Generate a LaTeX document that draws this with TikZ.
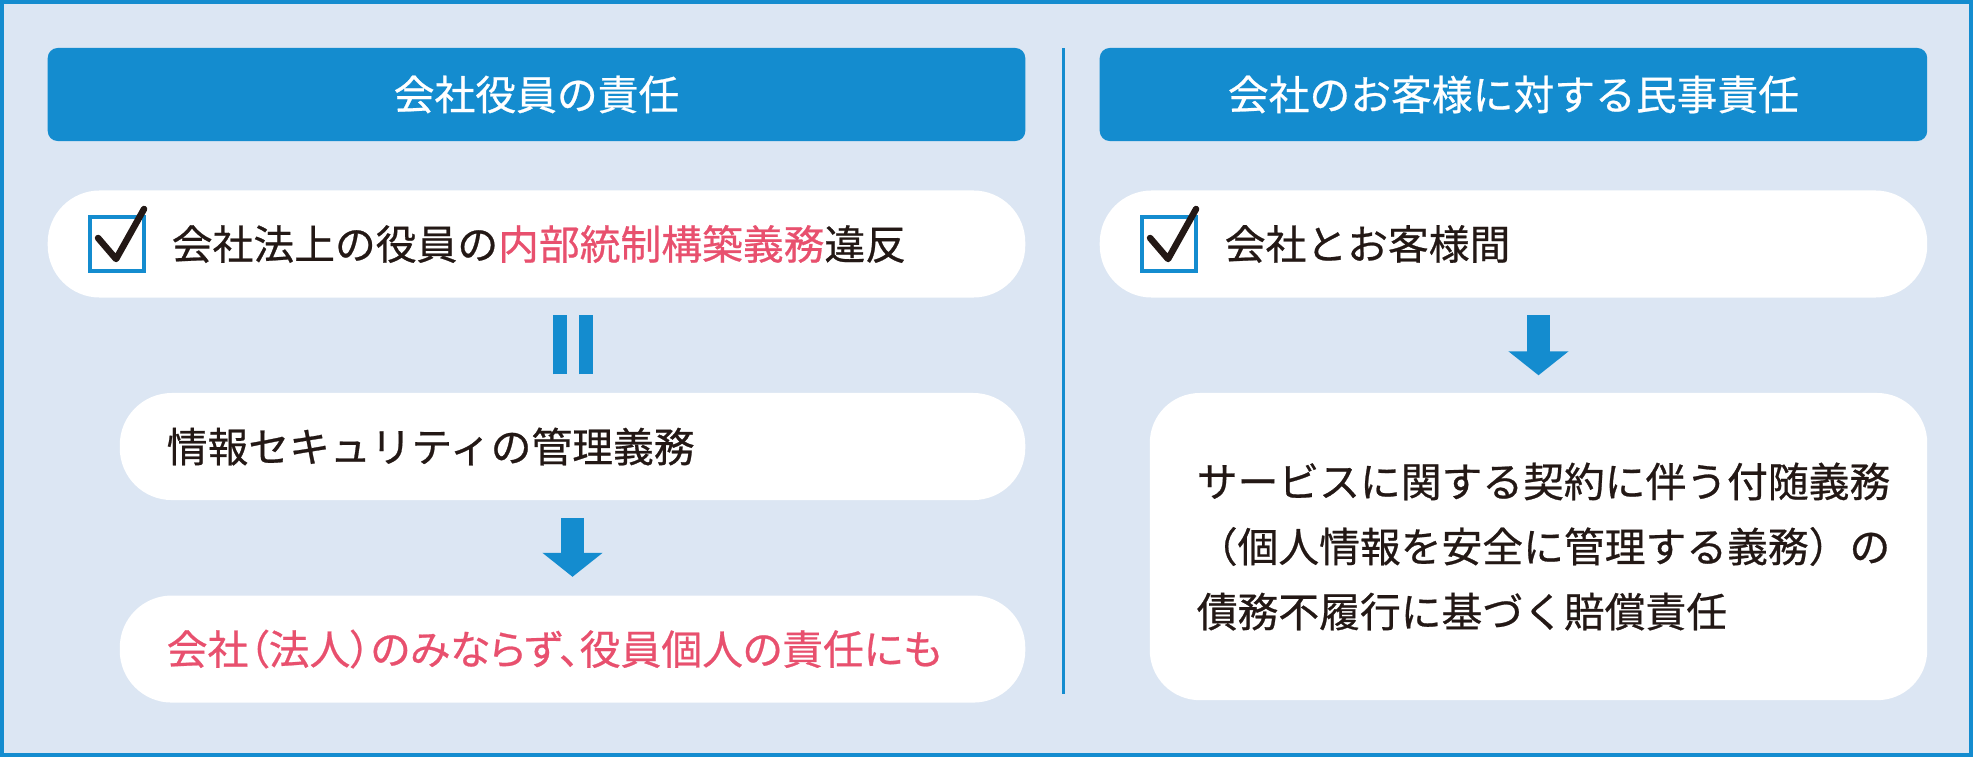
\documentclass[tikz,border=0pt]{standalone}
\usepackage{fontspec}
\newfontfamily\cjk[FakeBold=0.6]{Noto Sans CJK JP}
\newfontfamily\cjkp[FakeBold=0.6,RawFeature=+palt]{Noto Sans CJK JP}
\usetikzlibrary{positioning,arrows.meta,calc}
\definecolor{frameblue}{RGB}{20,140,207}
\definecolor{paleblue}{RGB}{220,230,243}
\definecolor{ink}{RGB}{35,24,21}
\definecolor{hot}{RGB}{232,80,110}

\begin{document}
\begin{tikzpicture}[
	x=0.01cm, y=-0.01cm
	,font=\cjk\fontsize{11.6pt}{18.5pt}\selectfont
	,head/.style={fill=frameblue, text=white, rounded corners=0.1cm, minimum height=0.93cm, inner sep=0}
	,pill/.style={fill=white, rounded corners=0.52cm, minimum height=1.07cm, inner sep=0}
	,txt/.style={text=ink, inner sep=0, anchor=west}
	,hotline/.style={text=hot, font=\cjkp\fontsize{11.6pt}{18.5pt}\selectfont}
	,chk/.style={draw=frameblue, line width=0.04cm, fill=white, minimum size=0.54cm, inner sep=0}
	,tick/.style={ink, line width=0.065cm, line cap=round, line join=round}
	,down/.style={frameblue, line width=0.23cm, -{Triangle[width=0.59cm, length=0.24cm]}}
	,eqbar/.style={frameblue, line width=0.14cm}
]
	\useasboundingbox (0,0) rectangle (1973,757);
	\draw[frameblue, fill=paleblue, line width=0.04cm] (2,2) rectangle (1971,755);
	\draw[frameblue, line width=0.03cm] (1063,48) -- (1063,694);

	\node[head, minimum width=9.77cm] (hdrL) at (536.5,94.5) {会社役員の責任};
	\node[head, minimum width=8.27cm, right=0.73cm of hdrL] (hdrR) {会社のお客様に対する民事責任};

	\node[pill, minimum width=9.77cm, below=0.48cm of hdrL] (pillA) {};
	\node[pill, minimum width=9.05cm, below left=0.94cm and 0cm of pillA.south east] (pillB) {};
	\node[pill, minimum width=9.05cm, below=0.94cm of pillB] (pillC) {};
	\node[pill, minimum width=8.27cm, below=0.48cm of hdrR] (pillR) {};
	\node[pill, minimum width=7.77cm, minimum height=3.07cm, rounded corners=0.5cm, below left=0.94cm and 0cm of pillR.south east] (boxR) {};

	\node[chk, right=0.41cm of pillA.west] (chkA) {};
	\node[chk, right=0.41cm of pillR.west] (chkR) {};
	\foreach \c in {chkA,chkR}
		\draw[tick] ([shift={(-19,-6)}]\c.center) -- ([shift={(-1,15)}]\c.center) -- ([shift={(27,-35)}]\c.center);

	\node[txt, right=0.25cm of chkA] (lawA) {会社法上の役員の\textcolor{hot}{内部統制構築義務}違反};
	\node[txt, right=0.47cm of pillB.west] (dutyB) {情報セキュリティの管理義務};
	\node[txt, hotline, right=0.47cm of pillC.west] (dutyC) {会社（法人）のみならず、役員個人の責任にも};
	\node[txt, right=0.26cm of chkR] (caseR) {会社とお客様間};
	\node[txt, align=left, right=0.47cm of boxR.west] (dutyR) {サービスに関する契約に伴う付随義務\\（個人情報を安全に管理する義務）の\\債務不履行に基づく賠償責任};

	\foreach \dx in {-13,13}
		\draw[eqbar, shorten <=0.18cm, shorten >=0.17cm] ($(pillB.north)+(\dx,0)$) -- ($(pillB.north |- pillA.south)+(\dx,0)$);
	\draw[down, shorten <=0.17cm, shorten >=0.18cm] (pillB) -- (pillC);
	\draw[down, shorten <=0.17cm, shorten >=0.17cm] (pillR.south -| boxR.north) -- (boxR.north);
\end{tikzpicture}
\end{document}
